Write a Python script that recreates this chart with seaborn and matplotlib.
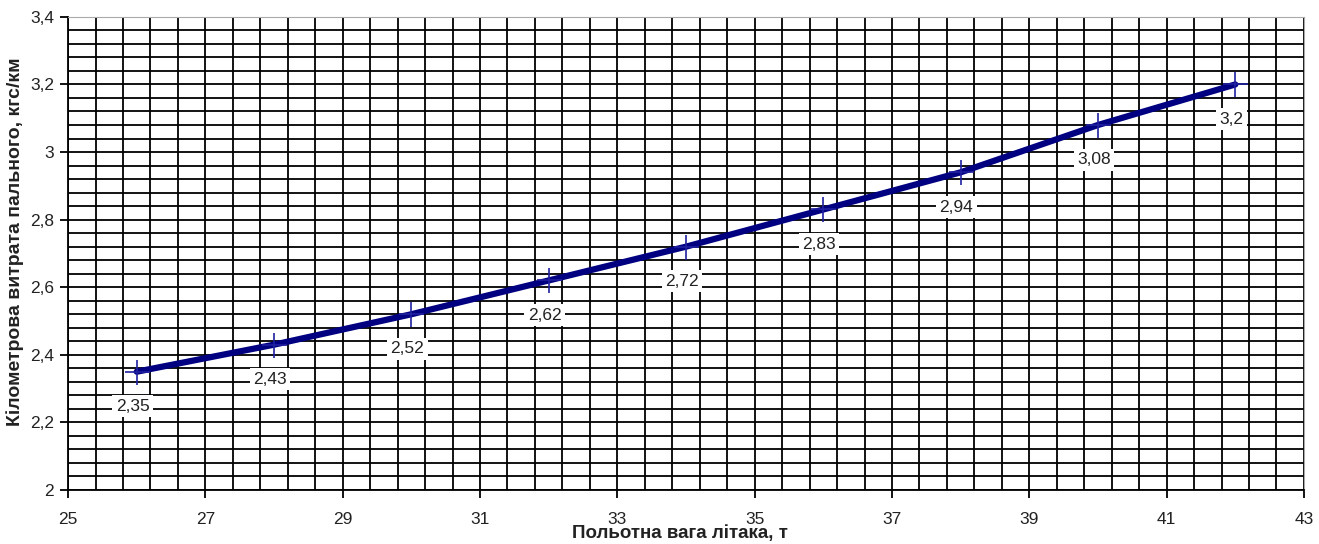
import numpy as np
import pandas as pd
import matplotlib
matplotlib.use("Agg")
import matplotlib.pyplot as plt
import seaborn as sns
from matplotlib.ticker import FuncFormatter

# data
weight_t = [26, 28, 30, 32, 34, 36, 38, 40, 42]
fuel_per_km = [2.35, 2.43, 2.52, 2.62, 2.72, 2.83, 2.94, 3.08, 3.2]
point_labels = ["2,35", "2,43", "2,52", "2,62", "2,72", "2,83", "2,94", "3,08", "3,2"]

df = pd.DataFrame({"weight": weight_t, "fuel": fuel_per_km})

sns.set_style("white")
plt.rcParams["font.family"] = ["Liberation Sans", "DejaVu Sans"]

fig = plt.figure(figsize=(13.19, 5.44), dpi=100)
ax = fig.add_axes([0.0516, 0.0993, 0.937, 0.8697])

sns.lineplot(data=df, x="weight", y="fuel", ax=ax, color="#000080",
             linewidth=4.5, zorder=3)
ax.plot(df["weight"], df["fuel"], linestyle="none", marker="+",
        markersize=18, markeredgewidth=1.2, color="#2020a0", zorder=4)

for x, y, lab in zip(weight_t, fuel_per_km, point_labels):
    ax.annotate(lab, (x, y), xytext=(-3, -25), textcoords="offset points",
                ha="center", va="center", fontsize=12.5, color="#222222",
                bbox=dict(boxstyle="square,pad=0.2", fc="white", ec="none"),
                zorder=5)

ax.set_xlim(25, 43)
ax.set_ylim(2, 3.4)
ax.set_xticks(np.arange(25, 43.5, 2))
ax.set_xticks(np.arange(25, 43.1, 0.4), minor=True)
ax.set_yticks(np.arange(2, 3.45, 0.2))
ax.set_yticks(np.arange(2, 3.41, 0.04), minor=True)
comma = FuncFormatter(lambda v, p: f"{round(v, 2):g}".replace(".", ","))
ax.xaxis.set_major_formatter(comma)
ax.yaxis.set_major_formatter(comma)
ax.grid(which="both", color="black", linewidth=1.3)
ax.set_axisbelow(True)

ax.tick_params(axis="both", which="major", labelsize=12.5, length=6,
               width=1.3, color="black", labelcolor="#222222",
               left=True, bottom=True)
ax.tick_params(axis="x", which="major", pad=10)
ax.tick_params(axis="y", which="major", pad=4)
ax.tick_params(which="minor", length=0)

for side in ["top", "right"]:
    ax.spines[side].set_color("#aaaaaa")
for side in ["left", "bottom"]:
    ax.spines[side].set_color("black")
    ax.spines[side].set_linewidth(1.3)

ax.set_xlabel("Польотна вага літака, т", fontsize=13.5, fontweight="bold",
              color="#222222")
ax.set_ylabel("Кілометрова витрата пального, кгс/км", fontsize=14,
              fontweight="bold", color="#222222")
ax.xaxis.set_label_coords(0.495, -0.074)
ax.yaxis.set_label_coords(-0.036, 0.524)

fig.savefig("out.png", dpi=100)
